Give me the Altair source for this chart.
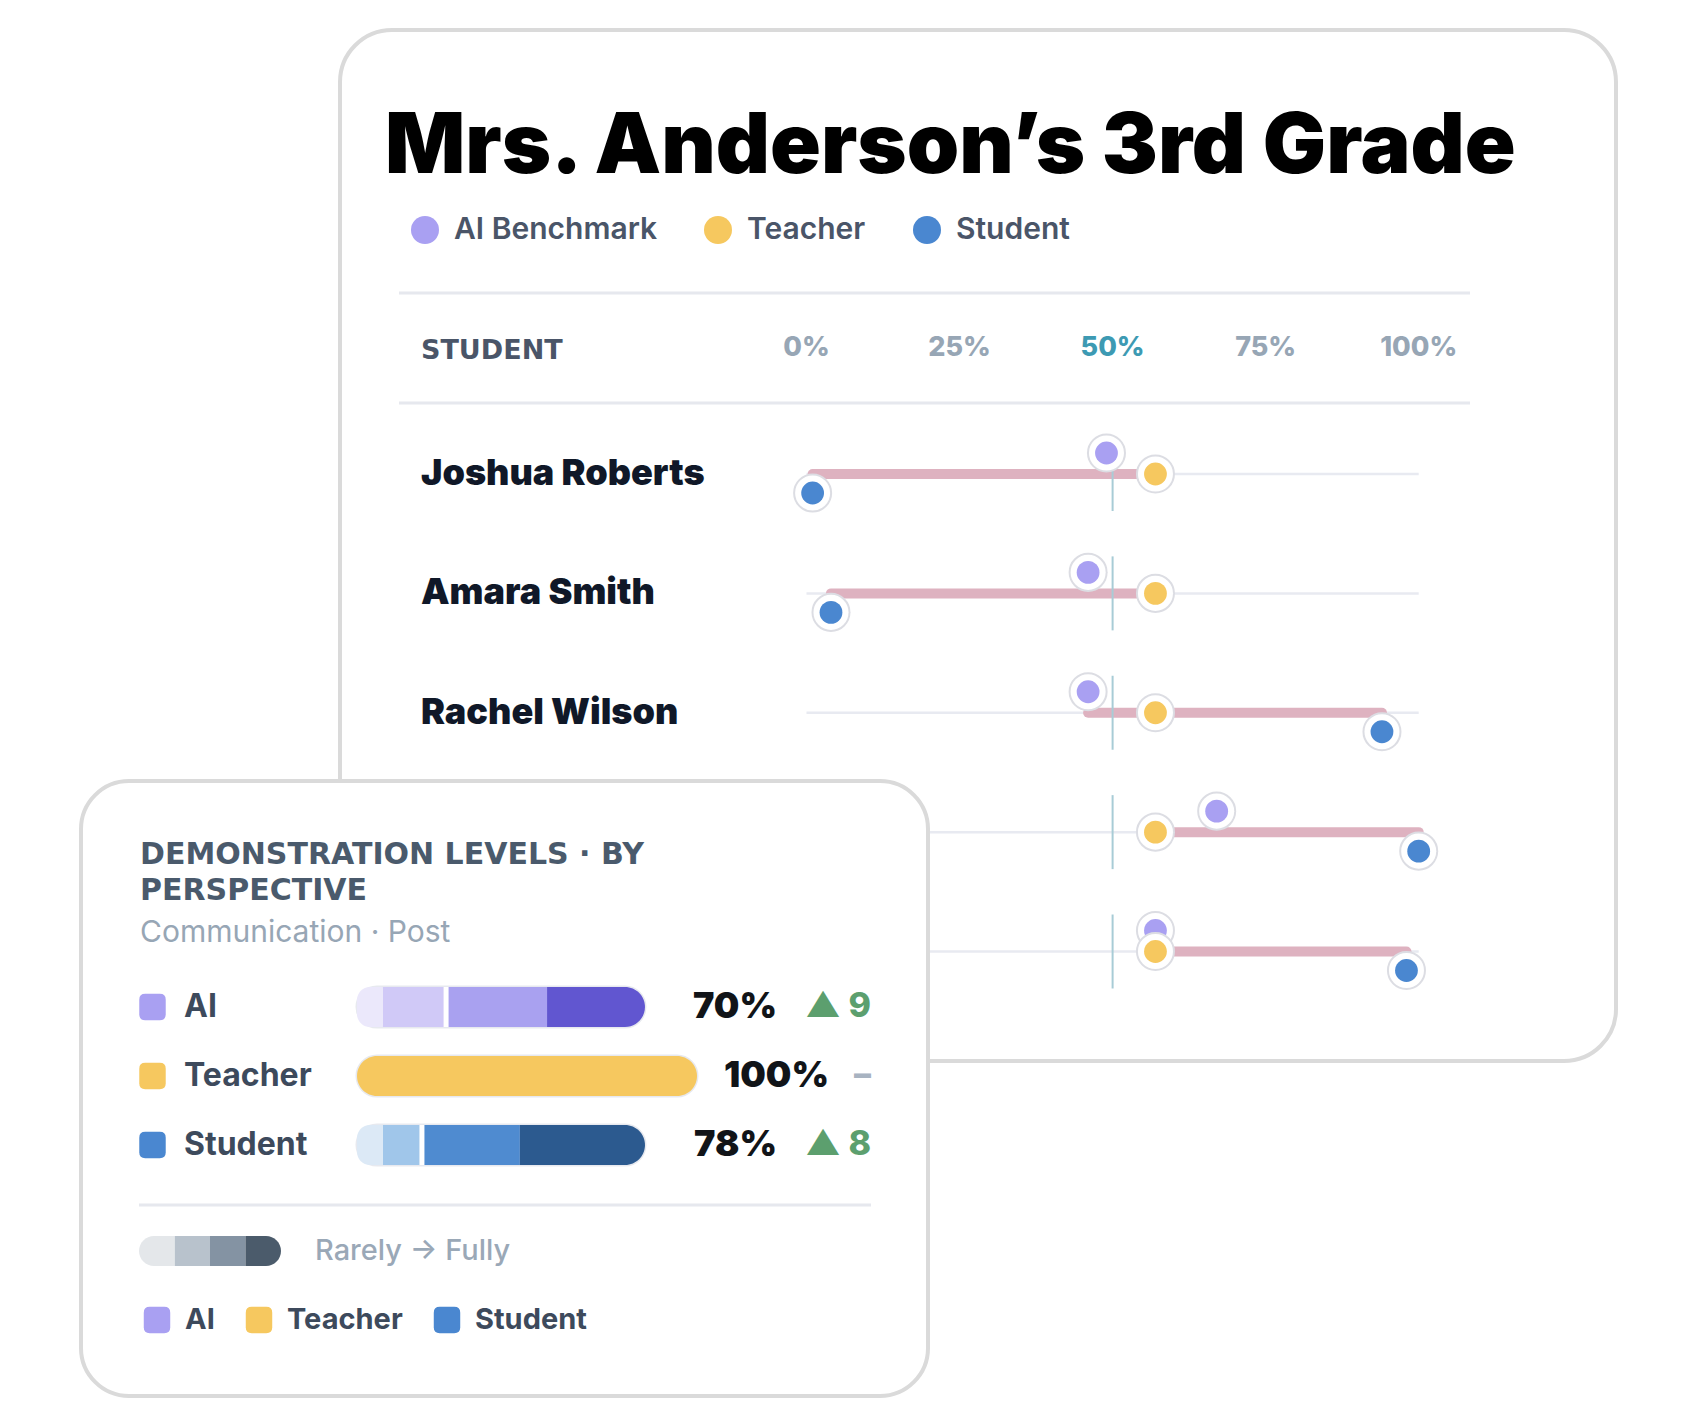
import altair as alt
import pandas as pd

# ---------------- data ----------------
title_text = "Mrs. Anderson’s 3rd Grade"
series = ["AI Benchmark", "Teacher", "Student"]
students = ["Joshua Roberts", "Amara Smith", "Rachel Wilson", "Liam Carter", "Sofia Diaz"]
visible_names = students[:3]  # rows 4-5 names are hidden behind the overlay card
ai_scores = [49, 46, 46, 67, 57]
teacher_scores = [57, 57, 57, 57, 57]
student_scores = [1, 4, 94, 100, 98]
tick_values = [0, 25, 50, 75, 100]
tick_labels = ["0%", "25%", "50%", "75%", "100%"]
header_label = "STUDENT"

panel_title_lines = ["DEMONSTRATION LEVELS · BY", "PERSPECTIVE"]
panel_subtitle = "Communication · Post"
perspectives = ["AI", "Teacher", "Student"]
ai_levels = [7.6, 18.6, 29.7, 28.8]
teacher_levels = [0, 0, 0, 100]
student_levels = [7.6, 11.5, 28.8, 36.8]
pct_labels = ["70%", "100%", "78%"]
delta_labels = ["▲ 9", "–", "▲ 8"]
delta_dir = ["up", "none", "up"]
scale_caption = "Rarely → Fully"
level_names = ["Rarely", "Sometimes", "Mostly", "Fully"]

# ---------------- styles ----------------
FONT = "Inter, Roboto, sans-serif"
WIDE = "DejaVu Sans, Inter, sans-serif"
series_colors = ["#a9a0f2", "#f6c85f", "#4a87d0"]
ai_seg_colors = ["#ebe8fb", "#d0c9f7", "#a9a1f0", "#6156d0"]
teacher_seg_colors = ["#fdf1d2", "#f9dd95", "#f6cf6c", "#f6c85f"]
student_seg_colors = ["#dce9f6", "#a0c6ea", "#4f8bd0", "#2c5a8f"]
scale_colors = ["#e4e7ea", "#b8c2cc", "#8493a3", "#4b5b6b"]
SLATE = "#4a5568"
M = 8


def X(v):
    return v - M


def Y(v):
    return v - M


one = pd.DataFrame({"k": [0]})


def card(x0, y0, x1, y1, r):
    return alt.Chart(one).mark_rect(
        fill="white", stroke="#dadada", strokeWidth=4, cornerRadius=r
    ).encode(x=alt.value(X(x0)), x2=alt.value(X(x1)), y=alt.value(Y(y0)), y2=alt.value(Y(y1)))


def hline(x0, x1, y, color="#e6e8ee", w=3):
    return alt.Chart(one).mark_rule(color=color, strokeWidth=w).encode(
        x=alt.value(X(x0)), x2=alt.value(X(x1)), y=alt.value(Y(y))
    )


def txt(text, x, y, size, color, weight=400, align="left", baseline="middle", font=FONT, **kw):
    return alt.Chart(pd.DataFrame({"t": [text]})).mark_text(
        align=align, baseline=baseline, fontSize=size, fontWeight=weight, color=color, font=font, **kw
    ).encode(x=alt.value(X(x)), y=alt.value(Y(y)), text="t:N")


ROUND_SQ = ("M -0.55,-1 L 0.55,-1 Q 1,-1 1,-0.55 L 1,0.55 Q 1,1 0.55,1 L -0.55,1 "
            "Q -1,1 -1,0.55 L -1,-0.55 Q -1,-1 -0.55,-1 Z")

layers = []

# ---------------- top card ----------------
layers.append(card(340, 30, 1616, 1061, 52))
layers.append(txt(title_text, 385, 173, 84, "#000000", 900, baseline="alphabetic"))

legend_x = [425, 718, 927]
for lab, col, lx in zip(series, series_colors, legend_x):
    layers.append(alt.Chart(one).mark_circle(size=784, color=col, opacity=1).encode(
        x=alt.value(X(lx)), y=alt.value(Y(230))))
    layers.append(txt(lab, lx + 29, 230, 30, SLATE, 600))

layers.append(hline(399, 1470, 293))
layers.append(hline(399, 1470, 403))
layers.append(txt(header_label, 421, 351, 27, SLATE, 700, font=WIDE))

XS = alt.Scale(domain=[tick_values[0], tick_values[-1]], range=[X(806.5), X(1418.7)])
YS = alt.Scale(type="point", domain=students, range=[Y(474), Y(951.5)], padding=0)

ticks_df = pd.DataFrame({"v": tick_values, "label": tick_labels})
layers.append(alt.Chart(ticks_df).mark_text(fontSize=27, fontWeight=800, font=FONT).encode(
    x=alt.X("v:Q", scale=XS, axis=None),
    y=alt.value(Y(348)),
    text="label:N",
    color=alt.condition(alt.datum.v == tick_values[2], alt.value("#3d9ab3"), alt.value("#97a6b5")),
))

# names (only the rows not covered by the overlay card)
names_df = pd.DataFrame({"name": visible_names})
layers.append(alt.Chart(names_df).mark_text(
    align="left", baseline="middle", fontSize=36, fontWeight=900, color="#101828", font=FONT
).encode(x=alt.value(X(421)), y=alt.Y("name:N", scale=YS, axis=None), text="name:N"))

# track
track_df = pd.DataFrame({"name": students, "lo": tick_values[0], "hi": tick_values[-1]})
layers.append(alt.Chart(track_df).mark_rule(color="#e8eaf1", strokeWidth=2.5).encode(
    x=alt.X("lo:Q", scale=XS, axis=None), x2="hi:Q", y=alt.Y("name:N", scale=YS, axis=None)))

# range bar
rng_df = pd.DataFrame({
    "name": students,
    "lo": [min(a, t, s) for a, t, s in zip(ai_scores, teacher_scores, student_scores)],
    "hi": [max(a, t, s) for a, t, s in zip(ai_scores, teacher_scores, student_scores)],
})
layers.append(alt.Chart(rng_df).mark_rule(color="#deb2c0", strokeWidth=10, strokeCap="round").encode(
    x=alt.X("lo:Q", scale=XS, axis=None), x2="hi:Q", y=alt.Y("name:N", scale=YS, axis=None)))

# 50% reference ticks
mid_df = pd.DataFrame({"name": students, "mid": tick_values[2]})
layers.append(alt.Chart(mid_df).mark_tick(color="#a8ccd6", thickness=2, size=74, orient="vertical", opacity=1).encode(
    x=alt.X("mid:Q", scale=XS, axis=None), y=alt.Y("name:N", scale=YS, axis=None)))

# dots
offsets = [-21, 0, 19]
for s, vals, col, off in zip(series, [ai_scores, teacher_scores, student_scores], series_colors, offsets):
    d = pd.DataFrame({"name": students, "value": vals, "series": s})
    layers.append(alt.Chart(d).mark_circle(
        size=1370, color="white", stroke="#dcdde3", strokeWidth=2, opacity=1, yOffset=off
    ).encode(x=alt.X("value:Q", scale=XS, axis=None), y=alt.Y("name:N", scale=YS, axis=None)))
    layers.append(alt.Chart(d).mark_circle(size=520, color=col, opacity=1, yOffset=off).encode(
        x=alt.X("value:Q", scale=XS, axis=None), y=alt.Y("name:N", scale=YS, axis=None)))

# ---------------- bottom card ----------------
layers.append(card(81, 781, 928, 1396, 48))
layers.append(txt("\n".join(panel_title_lines), 140, 864, 30, "#4a5a6c", 700,
                  baseline="alphabetic", font=WIDE, lineBreak="\n", lineHeight=36))
layers.append(txt(panel_subtitle, 140, 933, 30, "#97a6b5", 400))

YB = alt.Scale(type="band", domain=perspectives, range=[Y(972.5), Y(1179.5)],
               paddingInner=0.42, paddingOuter=0.21)
XB = alt.Scale(domain=[0, 100], range=[X(357), X(697)])

all_levels = [ai_levels, teacher_levels, student_levels]
all_seg_colors = [ai_seg_colors, teacher_seg_colors, student_seg_colors]
rows = []
for p, lv in zip(perspectives, all_levels):
    cum = 0
    for i, w in enumerate(lv):
        rows.append({"perspective": p, "level": i, "start": cum, "end": cum + w, "key": f"{p}-{i}"})
        cum += w
seg_df = pd.DataFrame(rows)
seg_df = seg_df[seg_df["end"] > seg_df["start"]]
keys = [f"{p}-{i}" for p in perspectives for i in range(4)]
key_colors = [c for cl in all_seg_colors for c in cl]
CS = alt.Scale(domain=keys, range=key_colors)

totals = [sum(lv) for lv in all_levels]
tot_df = pd.DataFrame({"perspective": perspectives, "zero": 0, "total": totals,
                       "pct": pct_labels, "delta": delta_labels, "dir": delta_dir})

# bar outline pill
layers.append(alt.Chart(tot_df).mark_rect(fill="#f1f2f6", stroke="#e7e9ef", strokeWidth=3, cornerRadius=21).encode(
    x=alt.X("zero:Q", scale=XB, axis=None), x2="total:Q", y=alt.Y("perspective:N", scale=YB, axis=None)))

first_idx = seg_df.groupby("perspective")["level"].transform("min")
last_idx = seg_df.groupby("perspective")["level"].transform("max")
seg_df = seg_df.assign(first=(seg_df["level"] == first_idx), last=(seg_df["level"] == last_idx))


def seg_layer(df, **radii):
    return alt.Chart(df).mark_rect(opacity=1, **radii).encode(
        x=alt.X("start:Q", scale=XB, axis=None), x2="end:Q",
        y=alt.Y("perspective:N", scale=YB, axis=None),
        color=alt.Color("key:N", scale=CS, legend=None))


R = 20
both = seg_df[seg_df["first"] & seg_df["last"]]
firsts = seg_df[seg_df["first"] & ~seg_df["last"]]
lasts = seg_df[seg_df["last"] & ~seg_df["first"]]
mids = seg_df[~seg_df["first"] & ~seg_df["last"]]
layers.append(seg_layer(mids))
layers.append(seg_layer(firsts, cornerRadiusTopLeft=R, cornerRadiusBottomLeft=R))
layers.append(seg_layer(lasts, cornerRadiusTopRight=R, cornerRadiusBottomRight=R))
layers.append(seg_layer(both, cornerRadius=R))

# white separators at the level 2/3 boundary
sep_df = seg_df[(seg_df["level"] == 2) & (seg_df["perspective"] != "Teacher")]
layers.append(alt.Chart(sep_df).mark_tick(color="white", thickness=5, size=40, orient="vertical", opacity=1).encode(
    x=alt.X("start:Q", scale=XB, axis=None), y=alt.Y("perspective:N", scale=YB, axis=None)))

# square icons + labels
layers.append(alt.Chart(pd.DataFrame({"perspective": perspectives})).mark_point(
    shape=ROUND_SQ, size=700, filled=True, opacity=1).encode(
    x=alt.value(X(152.5)), y=alt.Y("perspective:N", scale=YB, axis=None),
    color=alt.Color("perspective:N", scale=alt.Scale(domain=perspectives, range=series_colors), legend=None)))
layers.append(alt.Chart(pd.DataFrame({"perspective": perspectives})).mark_text(
    align="left", baseline="middle", fontSize=32, fontWeight=700, color="#3d4a5c", font=FONT).encode(
    x=alt.value(X(184)), y=alt.Y("perspective:N", scale=YB, axis=None), text="perspective:N"))

# percentages
layers.append(alt.Chart(tot_df).mark_text(
    align="right", baseline="middle", fontSize=36, fontWeight=900, color="#111418", font=FONT, dx=132).encode(
    x=alt.X("total:Q", scale=XB, axis=None), y=alt.Y("perspective:N", scale=YB, axis=None), text="pct:N"))
# deltas
layers.append(alt.Chart(tot_df).mark_text(
    align="right", baseline="middle", fontSize=34, fontWeight=800, font=FONT).encode(
    x=alt.value(X(871)), y=alt.Y("perspective:N", scale=YB, axis=None), text="delta:N",
    color=alt.condition(alt.datum.dir == "up", alt.value("#5c9f6e"), alt.value("#a8b3c1"))))

layers.append(hline(139, 871, 1205))

# scale legend
sc_df = pd.DataFrame({"level": level_names, "i0": list(range(4)), "i1": list(range(1, 5))})
XSC = alt.Scale(domain=[0, 4], range=[X(139), X(281)])


def sc_layer(df, **radii):
    return alt.Chart(df).mark_rect(opacity=1, **radii).encode(
        x=alt.X("i0:Q", scale=XSC, axis=None), x2="i1:Q",
        y=alt.value(Y(1236)), y2=alt.value(Y(1266)),
        color=alt.Color("level:N", scale=alt.Scale(domain=level_names, range=scale_colors), legend=None))


layers.append(sc_layer(sc_df.iloc[1:3]))
layers.append(sc_layer(sc_df.iloc[0:1], cornerRadiusTopLeft=15, cornerRadiusBottomLeft=15))
layers.append(sc_layer(sc_df.iloc[3:4], cornerRadiusTopRight=15, cornerRadiusBottomRight=15))
layers.append(txt(scale_caption, 315, 1251, 29, "#9aa8b7", 500))

# bottom legend
bl_sq_x = [157, 259, 447]
for lab, col, lx in zip(perspectives, series_colors, bl_sq_x):
    layers.append(alt.Chart(one).mark_point(shape=ROUND_SQ, size=700, filled=True, color=col, opacity=1).encode(
        x=alt.value(X(lx)), y=alt.value(Y(1320))))
    layers.append(txt(lab, lx + 28, 1320, 29, "#3d4a5c", 700))

chart = alt.layer(*layers).resolve_scale(
    x="independent", y="independent", color="independent"
).properties(
    width=1670, height=1407, autosize="none", padding=0, background="white"
).configure_view(stroke=None)

chart.save("out.html", embed_options={"renderer": "svg", "actions": False})
